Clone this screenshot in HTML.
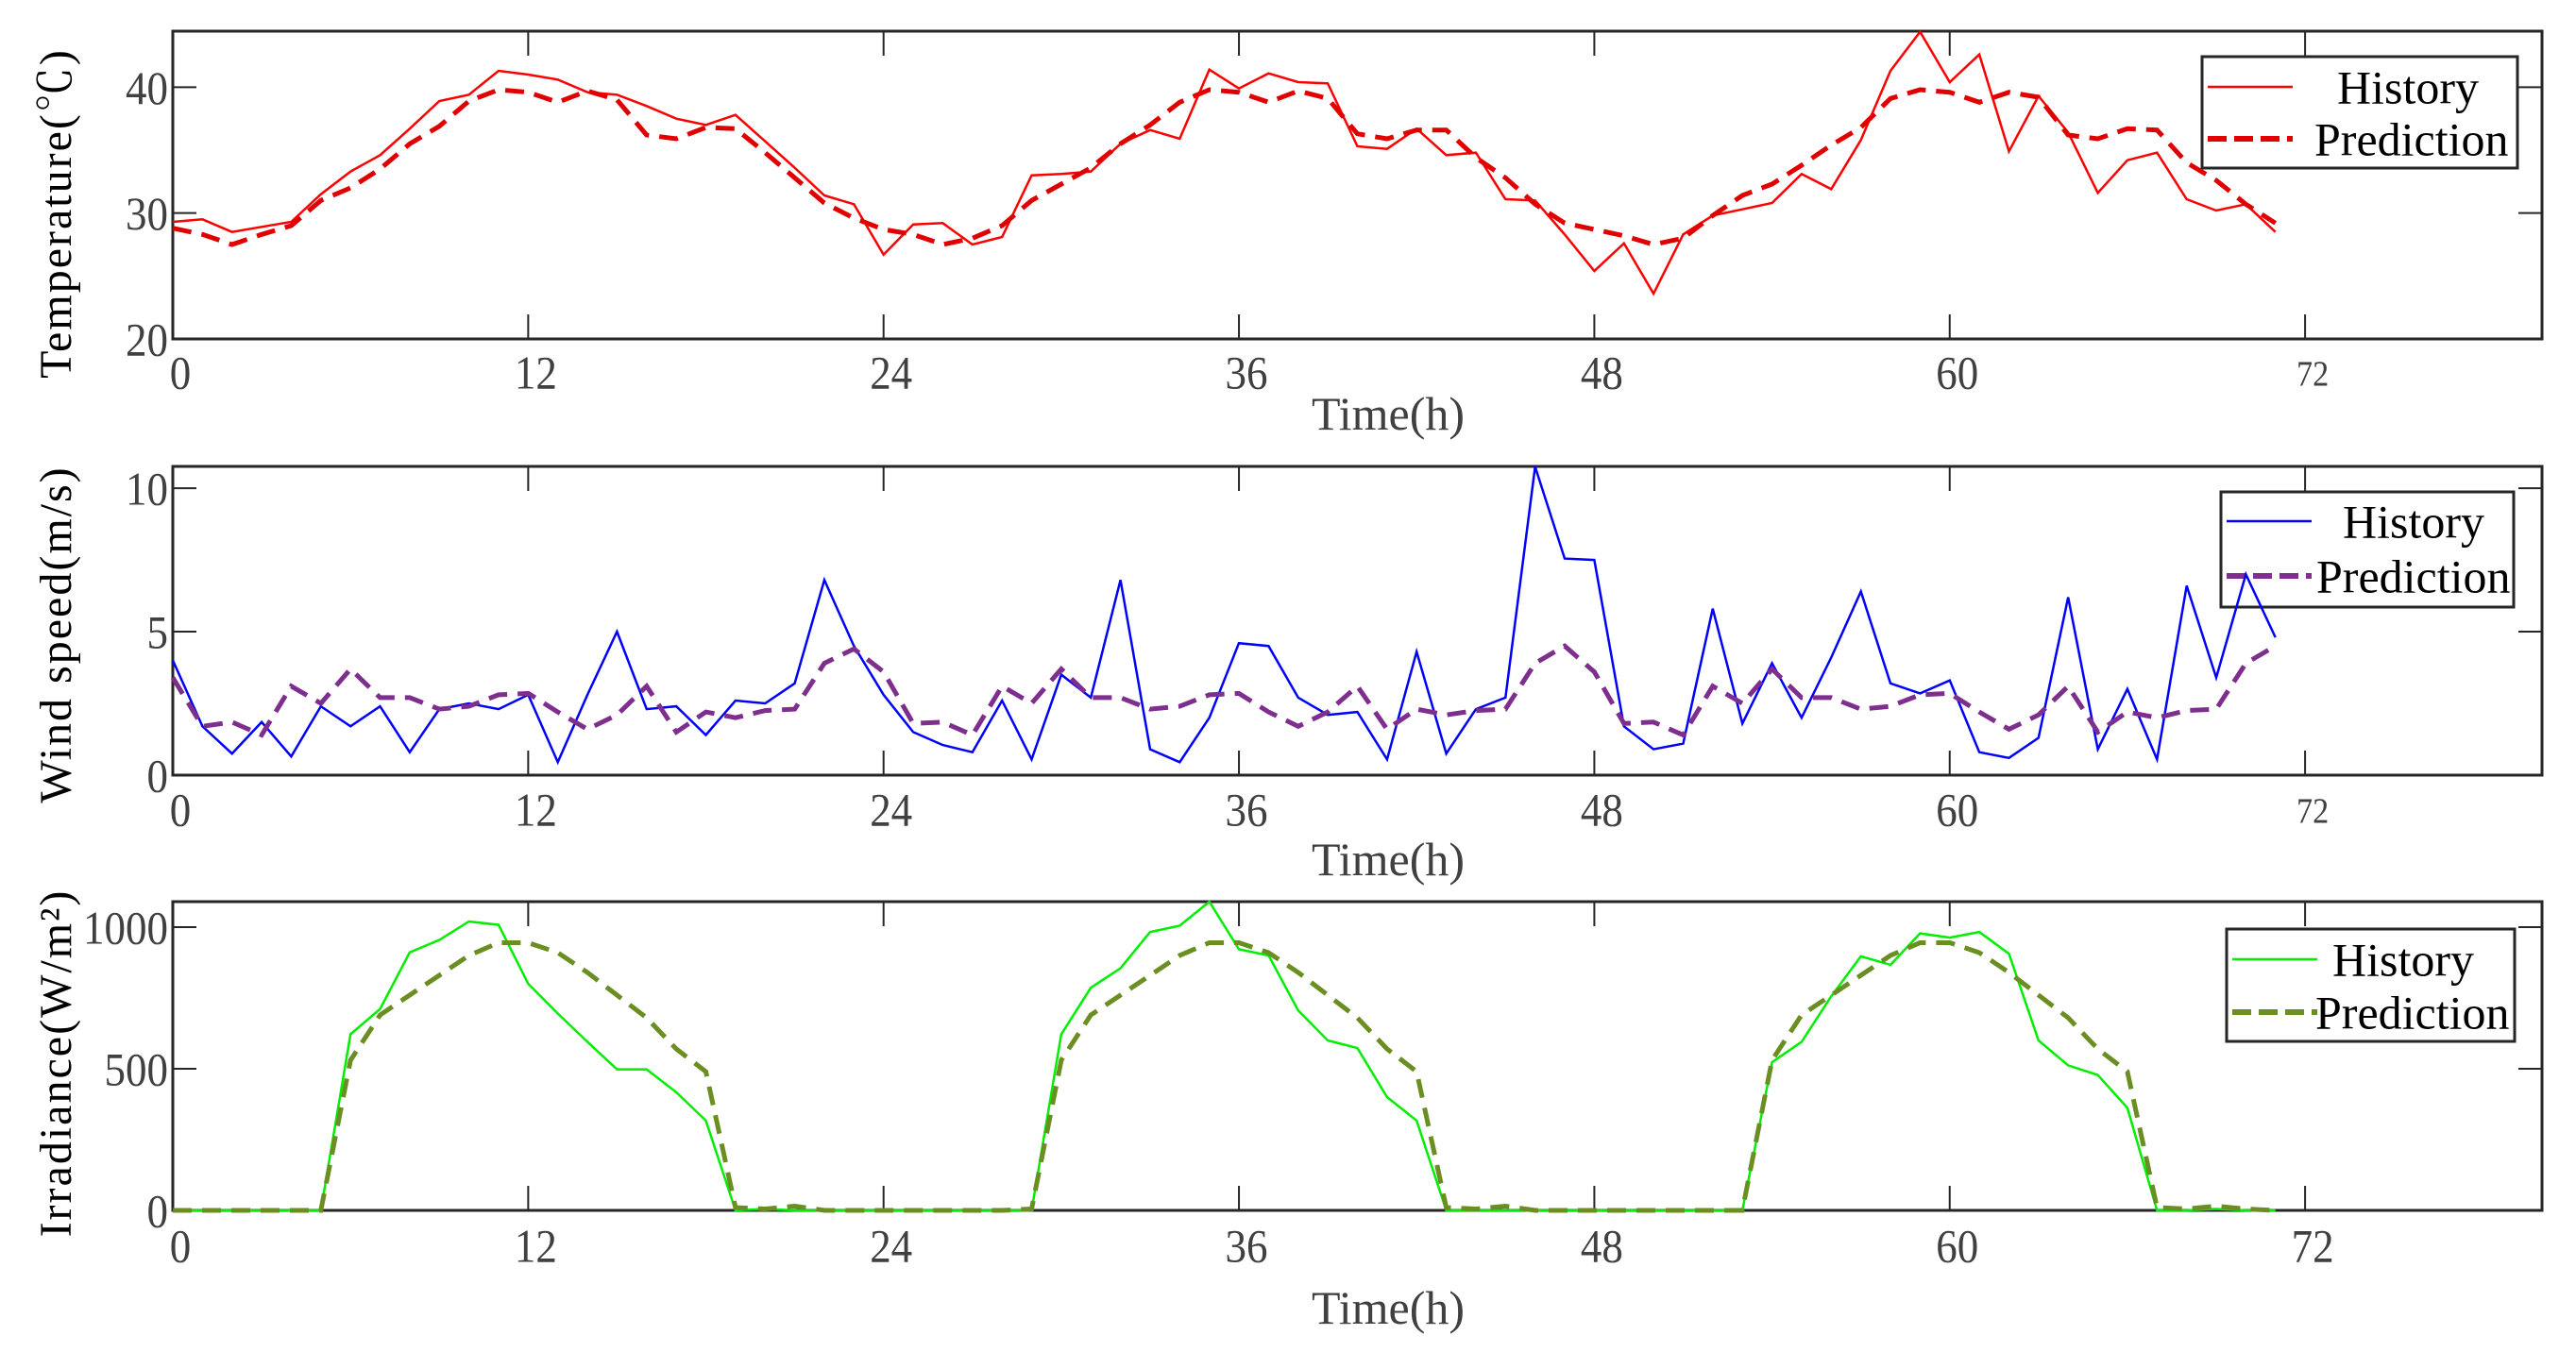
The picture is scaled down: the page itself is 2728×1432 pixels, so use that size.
<!DOCTYPE html>
<html><head><meta charset="utf-8"><style>
html,body{margin:0;padding:0;background:#fff;}
svg{display:block;font-family:"Liberation Serif","Noto Serif CJK SC",serif;}
</style></head><body>
<svg id="chart" width="2728" height="1432" viewBox="0 0 2728 1432" xmlns="http://www.w3.org/2000/svg"></svg>
<script>
const hours = Array.from({length:72},(_,i)=>i);
const xTicks = [0,12,24,36,48,60,72];
const tempHistory = [29.3,29.5,28.5,28.9,29.3,31.5,33.3,34.6,36.7,38.9,39.4,41.3,41.0,40.6,39.6,39.4,38.5,37.5,37.0,37.8,35.7,33.6,31.4,30.7,26.7,29.1,29.2,27.5,28.1,33.0,33.1,33.3,35.5,36.6,35.9,41.4,39.9,41.1,40.4,40.3,35.3,35.1,36.7,34.6,34.8,31.1,31.0,28.3,25.4,27.6,23.6,28.3,29.8,30.3,30.8,33.1,31.9,35.8,41.3,44.4,40.4,42.6,34.9,39.3,36.4,31.6,34.2,34.8,31.1,30.2,30.7,28.5];
const tempPrediction = [28.8,28.3,27.5,28.3,29.0,31.0,32.0,33.5,35.5,36.9,38.9,39.8,39.6,38.8,39.7,39.0,36.2,35.9,36.8,36.7,34.8,32.8,30.8,29.6,28.7,28.3,27.5,28.0,29.0,31.0,32.3,33.6,35.5,37.0,38.8,39.8,39.6,38.8,39.7,39.1,36.3,35.9,36.6,36.6,34.4,32.8,30.7,29.2,28.7,28.2,27.5,28.0,29.8,31.4,32.3,33.8,35.4,36.8,39.1,39.8,39.6,38.8,39.6,39.2,36.2,35.9,36.7,36.6,34.0,32.6,30.7,29.2];
const tempTicks = [20,30,40];
const windHistory = [4.0,1.7,0.75,1.85,0.65,2.4,1.7,2.4,0.8,2.3,2.5,2.3,2.8,0.45,2.8,5.0,2.3,2.4,1.4,2.6,2.5,3.2,6.8,4.5,2.8,1.5,1.05,0.8,2.6,0.55,3.5,2.7,6.8,0.9,0.45,2.0,4.6,4.5,2.7,2.1,2.2,0.55,4.3,0.75,2.3,2.7,10.75,7.55,7.5,1.7,0.9,1.1,5.8,1.8,3.9,2.0,4.1,6.4,3.2,2.85,3.3,0.8,0.6,1.3,6.2,0.9,3.0,0.55,6.6,3.4,7.0,4.8];
const windPrediction = [3.4,1.7,1.85,1.4,3.1,2.5,3.7,2.7,2.7,2.3,2.4,2.8,2.85,2.2,1.6,2.1,3.1,1.5,2.2,2.0,2.25,2.3,3.9,4.4,3.6,1.8,1.85,1.4,3.1,2.5,3.7,2.7,2.7,2.3,2.4,2.8,2.85,2.2,1.7,2.2,3.1,1.6,2.3,2.1,2.25,2.3,3.9,4.5,3.6,1.8,1.85,1.4,3.1,2.5,3.7,2.7,2.7,2.3,2.4,2.8,2.85,2.2,1.6,2.1,3.1,1.5,2.2,2.0,2.25,2.3,3.9,4.5];
const windTicks = [0,5,10];
const irrHistory = [0,0,0,0,0,0,622,711,911,955,1020,1008,800,695,595,498,498,417,317,0,5,0,0,0,0,0,0,0,0,0,622,786,855,983,1005,1090,922,900,706,600,573,400,317,0,0,0,0,0,0,0,0,0,0,0,523,595,756,897,867,978,963,983,906,600,512,478,362,0,0,5,0,0];
const irrPrediction = [0,0,0,0,0,0,530,690,760,830,900,945,945,910,840,760,680,570,490,10,5,15,0,0,0,0,0,0,0,5,530,690,760,830,900,945,945,910,840,760,680,570,490,10,5,15,0,0,0,0,0,0,0,0,530,690,760,830,900,945,945,910,840,760,680,570,490,10,5,15,5,0];
const irrTicks = [0,500,1000];

const NS="http://www.w3.org/2000/svg";
const svg=document.getElementById('chart');
function mk(tag,attrs,parent){const e=document.createElementNS(NS,tag);for(const k in attrs)e.setAttribute(k,attrs[k]);(parent||svg).appendChild(e);return e;}
const X0=183,X1=2692,XMAX=80;
const xs=h=>X0+(X1-X0)*h/XMAX;

const panels=[
 {key:'temperature',top:33,bot:359,ymin:20,ymax:44.45,ticks:tempTicks,hist:tempHistory,pred:tempPrediction,hc:'#ff0000',pc:'#e00000',title:'Temperature(℃)',tcy:226,tickLblY:400,timeY:455,small72:true,
  leg:{x:2332,y:60,w:334,h:118,hy:92,py:147,hx:2475,px:2451}},
 {key:'wind-speed',top:494,bot:821,ymin:0,ymax:10.76,ticks:windTicks,hist:windHistory,pred:windPrediction,hc:'#0000ff',pc:'#7e2f8e',title:'Wind speed(m/s)',tcy:672,tickLblY:863,timeY:927,small72:true,
  leg:{x:2352,y:521,w:310,h:122,hy:552,py:610,hx:2481,px:2453}},
 {key:'irradiance',top:955,bot:1282,ymin:0,ymax:1090,ticks:irrTicks,hist:irrHistory,pred:irrPrediction,hc:'#00ee00',pc:'#6b8e23',title:'Irradiance(W/m²)',tcy:1126,tickLblY:1325,timeY:1402,small72:false,
  leg:{x:2358,y:984,w:305,h:119,hy:1016,py:1072,hx:2470,px:2452}}
];

panels.forEach(p=>{
  const g=mk('g',{});
  
  
  const ys=v=>p.bot-(p.bot-p.top)*(v-p.ymin)/(p.ymax-p.ymin);
  const fr=mk('rect',{x:X0,y:p.top,width:X1-X0,height:p.bot-p.top,fill:'none',stroke:'#262626','stroke-width':3},g);
  
  
  xTicks.forEach(t=>{
    const x=xs(t);
    const a=mk('line',{x1:x,x2:x,y1:p.bot,y2:p.bot-26,stroke:'#262626','stroke-width':2},g);
    
    
    const b=mk('line',{x1:x,x2:x,y1:p.top,y2:p.top+26,stroke:'#262626','stroke-width':2},g);
    
    
    const small=(t===72&&p.small72);
    const lb=mk('text',{x:x+8,y:p.tickLblY,'text-anchor':'middle','dominant-baseline':'middle','font-size':small?38:50,fill:'#404040',transform:`translate(${x+8},0) scale(0.9,1) translate(${-(x+8)},0)`},g);
    lb.textContent=t;
    
    
  });
  p.ticks.forEach(t=>{
    const y=ys(t);
    const a=mk('line',{x1:X0,x2:X0+25,y1:y,y2:y,stroke:'#262626','stroke-width':2},g);
    
    
    const b=mk('line',{x1:X1,x2:X1-25,y1:y,y2:y,stroke:'#262626','stroke-width':2},g);
    
    
    const lb=mk('text',{x:178,y:y+6,'text-anchor':'end','dominant-baseline':'middle','font-size':50,fill:'#404040',transform:`translate(178,0) scale(0.9,1) translate(-178,0)`},g);
    lb.textContent=t;
    
    
  });
  const yt=mk('text',{x:0,y:0,'text-anchor':'middle','dominant-baseline':'middle','font-size':48,fill:'#000','letter-spacing':'2',transform:`translate(64,${p.tcy}) rotate(-90)`},g);
  yt.textContent=p.title;
  
  
  const xt=mk('text',{x:1470,y:p.timeY,'text-anchor':'middle','font-size':50,fill:'#404040'},g);
  xt.textContent='Time(h)';
  
  
  const L=p.leg;
  const lg=mk('g',{},g);
  
  
  mk('rect',{x:L.x,y:L.y,width:L.w,height:L.h,fill:'none',stroke:'#262626','stroke-width':3},lg);
  const s1=mk('line',{x1:L.x+6,x2:L.x+96,y1:L.hy,y2:L.hy,stroke:p.hc,'stroke-width':2.5},lg);
  
  
  const s2=mk('line',{x1:L.x+6,x2:L.x+96,y1:L.py,y2:L.py,stroke:p.pc,'stroke-width':6,'stroke-dasharray':'20 8'},lg);
  
  
  const t1=mk('text',{x:L.hx,y:L.hy+6,'dominant-baseline':'middle','font-size':50,fill:'#000'},lg);
  t1.textContent='History';
  
  
  const t2=mk('text',{x:L.px,y:L.py+6,'dominant-baseline':'middle','font-size':50,fill:'#000'},lg);
  t2.textContent='Prediction';
  
  
  const pts=arr=>arr.map((v,i)=>xs(hours[i]).toFixed(1)+','+ys(v).toFixed(1)).join(' ');
  const hl=mk('polyline',{points:pts(p.hist),fill:'none',stroke:p.hc,'stroke-width':2.5,'stroke-linejoin':'miter'},g);
  
  
  const pl=mk('polyline',{points:pts(p.pred),fill:'none',stroke:p.pc,'stroke-width':5,'stroke-dasharray':'20 11'},g);
  
  
});
</script>
</body></html>
